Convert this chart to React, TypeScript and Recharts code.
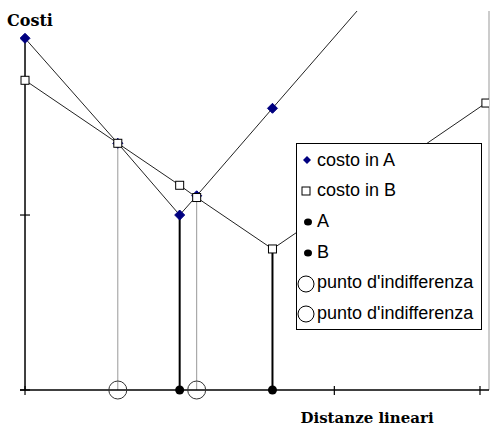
import {
  ComposedChart,
  Line,
  XAxis,
  YAxis,
  ReferenceLine,
  ReferenceDot,
  Legend,
} from "recharts";

// distanze (asse x) e costi (asse y)
const distA = [0, 0.3, 0.5, 0.555, 0.8, 1.1];
const costA = [2.01, 1.41, 1.0, 1.11, 1.61, 2.22];
const distB = [0, 0.3, 0.5, 0.555, 0.8, 1.49];
const costB = [1.77, 1.41, 1.17, 1.1, 0.806, 1.64];

// punti sull'asse: localizzazione A, B e punti d'indifferenza
const puntoA = 0.5;
const puntoB = 0.8;
const indiffX = [0.3, 0.555];

const xTicks = [0, 1, 1.5];
const yTicks = [0, 1];

const legendLabels = [
  "costo in A",
  "costo in B",
  "A",
  "B",
  "punto d'indifferenza",
  "punto d'indifferenza",
];
const legendIcons = ["diamond", "square", "dot", "dot", "circle", "circle"];

const zip = (xs: number[], ys: number[]) => xs.map((x, i) => ({ x, y: ys[i] }));
const drop = (x: number, top: number) => [
  { x, y: 0 },
  { x, y: top },
];

const serieA = zip(distA, costA);
const serieB = zip(distB, costB);
const dropA = drop(puntoA, costA[2]);
const dropB = drop(puntoB, costB[4]);
const indiff1 = drop(indiffX[0], costB[1]);
const indiff2 = drop(indiffX[1], costB[3]);

const NAVY = "#000080";

function Diamond(props: any) {
  const { cx, cy, index } = props;
  if (cx == null || cy == null) return <g key={index} />;
  const r = 5;
  return (
    <polygon
      key={index}
      points={`${cx},${cy - r} ${cx + r},${cy} ${cx},${cy + r} ${cx - r},${cy}`}
      fill={NAVY}
      stroke={NAVY}
    />
  );
}

function Square(props: any) {
  const { cx, cy, index } = props;
  if (cx == null || cy == null) return <g key={index} />;
  return (
    <rect key={index} x={cx - 4} y={cy - 4} width={8} height={8} fill="#fff" stroke="#000" strokeWidth={1} />
  );
}

const blackDot = (props: any) => <circle cx={props.cx} cy={props.cy} r={4.5} fill="#000" />;
const openCircle = (props: any) => (
  <circle cx={props.cx} cy={props.cy} r={9} fill="none" stroke="#333" strokeWidth={1} />
);

function XTick(props: any) {
  const { x, y } = props;
  return <line x1={x} x2={x} y1={y - 4} y2={y + 5} stroke="#000" strokeWidth={1.2} />;
}

// l'asse y sta 5px a destra del bordo sinistro del plot
function YTick(props: any) {
  const { x, y } = props;
  return <line x1={x} x2={x + 10} y1={y} y2={y} stroke="#000" strokeWidth={1.2} />;
}

function LegendIcon({ kind }: { kind: string }) {
  return (
    <svg width={20} height={20} style={{ flex: "none" }}>
      {kind === "diamond" && <polygon points="10,6 14,10 10,14 6,10" fill={NAVY} />}
      {kind === "square" && <rect x={5} y={6} width={8} height={8} fill="#fff" stroke="#000" />}
      {kind === "dot" && <ellipse cx={11} cy={11} rx={4} ry={3.5} fill="#000" />}
      {kind === "circle" && <circle cx={9} cy={11} r={8} fill="none" stroke="#000" />}
    </svg>
  );
}

const renderLegend = () => (
  <div
    style={{
      width: 186,
      height: 187,
      boxSizing: "border-box",
      border: "1px solid #000",
      background: "#fff",
      paddingTop: 1,
      fontFamily: '"Liberation Sans", Arial, sans-serif',
      fontSize: 18,
      color: "#000",
    }}
  >
    {legendLabels.map((label, i) => (
      <div key={i} style={{ height: 30.6, display: "flex", alignItems: "center" }}>
        <LegendIcon kind={legendIcons[i]} />
        <span style={{ whiteSpace: "nowrap" }}>{label}</span>
      </div>
    ))}
  </div>
);

export default function App() {
  return (
    <div style={{ position: "absolute", left: 0, top: 0, width: 490, height: 430, background: "#fff" }}>
      <ComposedChart width={490} height={430} margin={{ top: 11, right: 1, left: 0, bottom: 0 }}>
        <XAxis
          dataKey="x"
          type="number"
          domain={[-0.0162, 1.5]}
          ticks={xTicks}
          allowDataOverflow
          height={40}
          tickSize={0}
          tickMargin={0}
          tickLine={false}
          tick={<XTick />}
          axisLine={{ stroke: "#000", strokeWidth: 1.5 }}
        />
        <YAxis
          dataKey="y"
          type="number"
          domain={[0, 2.166]}
          ticks={yTicks}
          allowDataOverflow
          width={20}
          tickSize={0}
          tickMargin={0}
          tickLine={false}
          tick={<YTick />}
          axisLine={false}
        />
        <ReferenceLine
          segment={[
            { x: 0, y: 0 },
            { x: 0, y: 2 },
          ]}
          stroke="#000"
          strokeWidth={1.5}
          ifOverflow="visible"
        />
        <ReferenceLine x={1.5} stroke="#999" strokeWidth={1} />

        <Line data={indiff1} dataKey="y" type="linear" stroke="#999" strokeWidth={1} dot={false} activeDot={false} isAnimationActive={false} legendType="none" />
        <Line data={indiff2} dataKey="y" type="linear" stroke="#999" strokeWidth={1} dot={false} activeDot={false} isAnimationActive={false} legendType="none" />
        <Line data={dropA} dataKey="y" type="linear" stroke="#000" strokeWidth={2} dot={false} activeDot={false} isAnimationActive={false} legendType="none" />
        <Line data={dropB} dataKey="y" type="linear" stroke="#000" strokeWidth={2} dot={false} activeDot={false} isAnimationActive={false} legendType="none" />

        <ReferenceDot x={puntoA} y={0} r={4.5} shape={blackDot} ifOverflow="visible" />
        <ReferenceDot x={puntoB} y={0} r={4.5} shape={blackDot} ifOverflow="visible" />
        {indiffX.map((x) => (
          <ReferenceDot key={x} x={x} y={0} r={9} shape={openCircle} ifOverflow="visible" />
        ))}

        <Line data={serieA} dataKey="y" name="costo in A" type="linear" stroke="#222" strokeWidth={1} dot={<Diamond />} activeDot={false} isAnimationActive={false} />
        <Line data={serieB} dataKey="y" name="costo in B" type="linear" stroke="#222" strokeWidth={1} dot={<Square />} activeDot={false} isAnimationActive={false} />

        <Legend
          layout="vertical"
          align="center"
          verticalAlign="middle"
          content={renderLegend}
          wrapperStyle={{ left: 296, top: 143, width: 186, height: 187 }}
        />
      </ComposedChart>
      <svg width={490} height={430} style={{ position: "absolute", left: 0, top: 0, pointerEvents: "none" }}>
        <text x={7} y={26} fontFamily='"DejaVu Serif", serif' fontWeight="bold" fontSize={16} fill="#000">
          Costi
        </text>
        <text x={367} y={423} textAnchor="middle" fontFamily='"DejaVu Serif", serif' fontWeight="bold" fontSize={15} fill="#000">
          Distanze lineari
        </text>
      </svg>
    </div>
  );
}
